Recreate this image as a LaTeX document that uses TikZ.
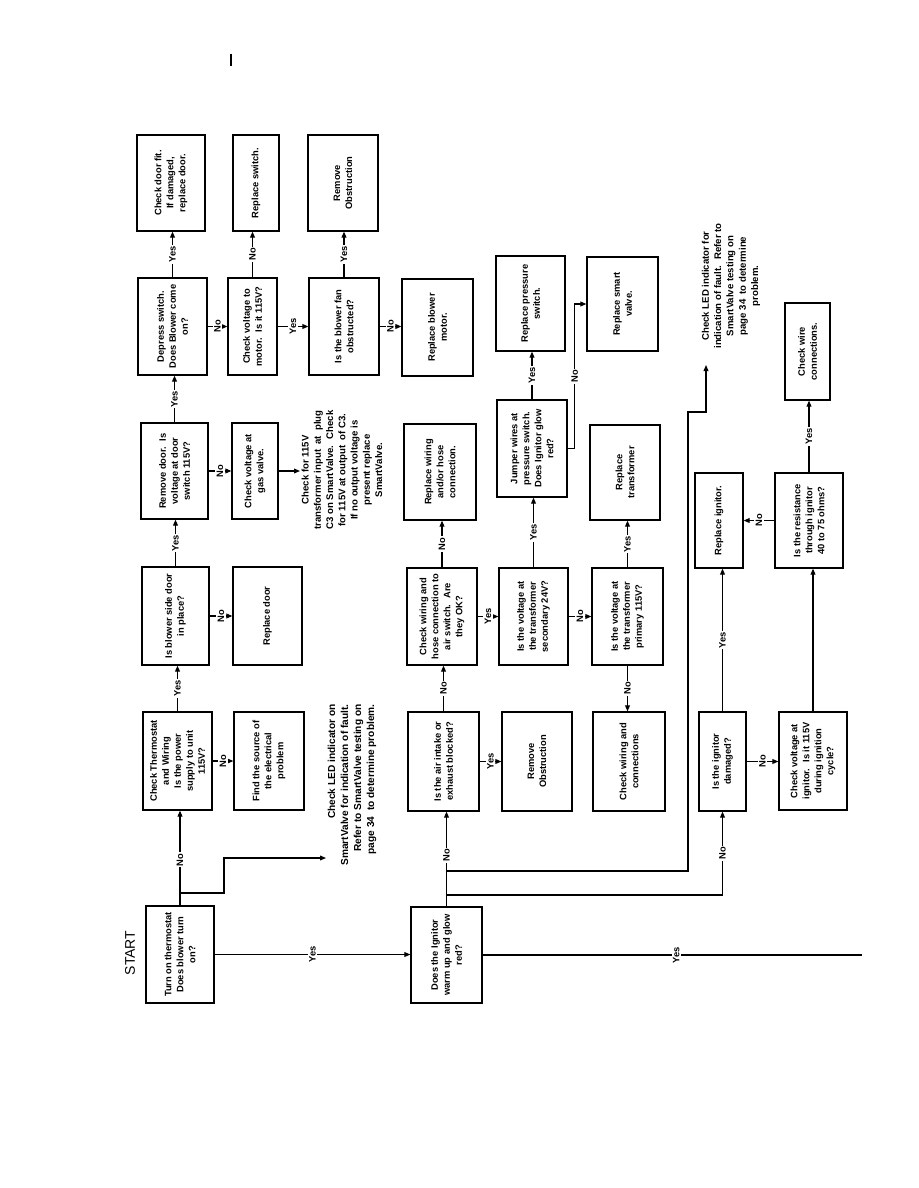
\documentclass[tikz,border=0pt]{standalone}
\usepackage{fontspec}
\setmainfont{Liberation Sans}
\usetikzlibrary{arrows.meta}
\begin{document}
\begin{tikzpicture}[x=0.75pt,y=-0.75pt,
  box/.style={draw, line width=0.9pt, rotate=90, align=center, inner sep=1pt, font=\fontsize{7}{9}\selectfont\bfseries},
  sz/.style 2 args={minimum width=#2*0.75pt, minimum height=#1*0.75pt},
  arr/.style={-{Triangle[length=4.5pt,width=3.6pt]}, line width=0.8pt},
  ln/.style={line width=0.8pt},
  lab/.style={fill=white, rotate=90, inner sep=1pt, font=\fontsize{7}{8}\selectfont\bfseries},
  note/.style={rotate=90, inner sep=1pt, font=\fontsize{7.2}{9.2}\selectfont\bfseries},
]
\fill[white] (0,0) rectangle (918,1188);
\useasboundingbox (0,0) rectangle (918,1188);
\draw[line width=1.1pt] (231,54) -- (231,66);
\node[rotate=90, font=\fontsize{10.5}{12}\selectfont] (starttxt) at (130,953) {START};

\node[box, sz={68}{97}] (start) at (180,954.5) {Turn on thermostat\\Does blower turn\\on?};
\node[box, sz={69}{98}] (thermo) at (177.5,761) {Check Thermostat\\and Wiring\\Is the power\\supply to unit\\115V?};
\node[box, sz={70}{98}] (findsrc) at (269,761) {Find the source of\\the electrical\\problem};
\node[box, sz={67}{98}] (sidedoor) at (175.5,616) {Is blower side door\\in place?};
\node[box, sz={69}{98}] (repdoor) at (267.5,616) {Replace door};
\node[box, sz={67}{96}] (remdoor) at (174.5,471) {Remove door.~ Is\\voltage at door\\switch 115V?};
\node[box, sz={46}{96}] (gasvalve) at (255,471) {Check voltage at\\gas valve.};
\node[box, sz={69}{97}] (depress) at (172.5,326.5) {Depress switch.\\Does Blower come\\on?};
\node[box, sz={68}{96}] (doorfit) at (171,183) {Check door fit.\\If damaged,\\replace door.};
\node[box, sz={49}{97}] (motorv) at (252.5,326.5) {Check voltage to\\motor.~ Is it 115V?};
\node[box, sz={46}{96}] (repswitch) at (256,183) {Replace switch.};
\node[box, sz={70}{97}] (fanobs) at (344,326.5) {Is the blower fan\\obstructed?};
\node[box, sz={70}{96}] (remobs1) at (343,183) {Remove\\Obstruction};
\node[box, sz={71}{97}] (repmotor) at (437.5,327.5) {Replace blower\\motor.};
\node[box, sz={71}{96}] (ignitor) at (446.5,955) {Does the Ignitor\\warm up and glow\\red?};
\node[box, sz={71}{99}] (airint) at (443.5,761.5) {Is the air intake or\\exhaust blocked?};
\node[box, sz={70}{99}] (remobs2) at (537,761.5) {Remove\\Obstruction};
\node[box, sz={72}{99}] (chkwire2) at (629,761.5) {Check wiring and\\connections};
\node[box, sz={70}{97}] (hose) at (442,616.5) {Check wiring and\\hose connection to\\air switch.~ Are\\they OK?};
\node[box, sz={72}{96}] (repwiring) at (440,472) {Replace wiring\\and/or hose\\connection.};
\node[box, sz={69}{97}] (secondary) at (533.5,616.5) {Is the voltage at\\the transformer\\secondary 24V?};
\node[box, sz={70}{97}] (jumper) at (532,448.5) {Jumper wires at\\pressure switch.\\Does Ignitor glow\\red?};
\node[box, sz={71}{97}] (primary) at (627.5,616.5) {Is the voltage at\\the transformer\\primary 115V?};
\node[box, sz={70}{95}] (reptrans) at (625,472.5) {Replace\\transformer};
\node[box, sz={69}{95}] (reppress) at (530.5,303.5) {Replace pressure\\switch.};
\node[box, sz={71}{94}] (repsmart) at (622.5,304) {Replace smart\\valve.};
\node[box, sz={47}{99}] (ignd) at (722.5,761.5) {Is the ignitor\\damaged?};
\node[box, sz={68}{98}] (ignv) at (813,761) {Check voltage at\\ignitor.~ Is it 115V\\during ignition\\cycle?};
\node[box, sz={48}{95}] (repign) at (719,520.5) {Replace ignitor.};
\node[box, sz={68}{95}] (resist) at (809,520.5) {Is the resistance\\through ignitor\\40 to 75 ohms?};
\node[box, sz={45}{97}] (chkwire3) at (807.5,351.5) {Check wire\\connections.};

\node[note, align=right, font=\fontsize{7.6}{9.8}\selectfont\bfseries] (led1) at (352,785) {Check LED indicator on\\SmartValve for indication of fault.\\Refer to SmartValve testing on\\page 34~ to determine problem.};
\node[note, align=center, anchor=north] (note115) at (300,470) {Check for 115V\\transformer input~ at~ plug\\C3 on SmartValve.~ Check\\for 115V at output~ of C3.\\If no output voltage is\\present replace\\SmartValve.};
\node[note, align=center] (led2) at (731,286) {Check LED indicator for\\indication of fault.~ Refer to\\SmartValve testing on\\page 34~ to determine\\problem.};
\coordinate (led1in) at (326,858);
\coordinate (led2in) at (706,365);
\coordinate (yesend) at (862,955);

\draw[arr] (start.east) -- node[lab,pos=0.48]{No} (start.east |- thermo.west);
\draw[arr] (start.east |- 0,893) -| (224,858) -- (led1in);
\draw[arr] (start.south) -- node[lab]{Yes} (start.south -| ignitor.north);
\draw[arr] (thermo.south) -- node[lab]{No} (thermo.south -| findsrc.north);
\draw[arr] (thermo.east) -- node[lab]{Yes} (thermo.east |- sidedoor.west);
\draw[arr] (sidedoor.south) -- node[lab]{No} (sidedoor.south -| repdoor.north);
\draw[arr] (sidedoor.east) -- node[lab]{Yes} (sidedoor.east |- remdoor.west);
\draw[arr] (remdoor.south) -- node[lab]{No} (remdoor.south -| gasvalve.north);
\draw[arr] (gasvalve.south) -- (gasvalve.south -| note115.north);
\draw[arr] (remdoor.east) -- node[lab]{Yes} (remdoor.east |- depress.west);
\draw[arr] (depress.east) -- node[lab]{Yes} (depress.east |- doorfit.west);
\draw[arr] (depress.south) -- node[lab]{No} (depress.south -| motorv.north);
\draw[arr] (motorv.east) -- node[lab]{No} (motorv.east |- repswitch.west);
\draw[arr] (motorv.south) -- node[lab]{Yes} (motorv.south -| fanobs.north);
\draw[arr] (fanobs.east) -- node[lab]{Yes} (fanobs.east |- remobs1.west);
\draw[arr] (fanobs.south) -- node[lab]{No} (fanobs.south -| repmotor.north);

\draw[arr] (ignitor.east) -- node[lab,pos=0.54]{No} (ignitor.east |- airint.west);
\draw[arr] (ignitor.east |- 0,871) -| (688,412) -| (led2in);
\draw[arr] (ignitor.east |- 0,895) -| node[lab,pos=0.75]{No} (ignd.west);
\draw[ln] (ignitor.south) -- node[lab,pos=0.51]{Yes} (yesend);

\draw[arr] (airint.east) -- node[lab]{No} (airint.east |- hose.west);
\draw[arr] (airint.south) -- node[lab]{Yes} (airint.south -| remobs2.north);
\draw[arr] (hose.east) -- node[lab]{No} (hose.east |- repwiring.west);
\draw[arr] (hose.south) -- node[lab]{Yes} (hose.south -| secondary.north);
\draw[arr] (secondary.east) -- node[lab]{Yes} (secondary.east |- jumper.west);
\draw[arr] (secondary.south) -- node[lab]{No} (secondary.south -| primary.north);
\draw[arr] (primary.east) -- node[lab]{Yes} (primary.east |- reptrans.west);
\draw[arr] (primary.west) -- node[lab]{No} (primary.west |- chkwire2.east);
\draw[arr] (jumper.east) -- node[lab]{Yes} (jumper.east |- reppress.west);
\draw[arr] (jumper.south) -- ++(7,0) |- node[lab,pos=0.25]{No} (repsmart.north);
\draw[arr] (ignd.east) -- node[lab,pos=0.5]{Yes} (ignd.east |- repign.west);
\draw[arr] (ignd.south) -- node[lab]{No} (ignd.south -| ignv.north);
\draw[arr] (ignv.east) -- (ignv.east |- resist.west);
\draw[arr] (resist.north) -- node[lab]{No} (resist.north -| repign.south);
\draw[arr] (resist.east) -- node[lab]{Yes} (resist.east |- chkwire3.west);
\end{tikzpicture}
\end{document}
